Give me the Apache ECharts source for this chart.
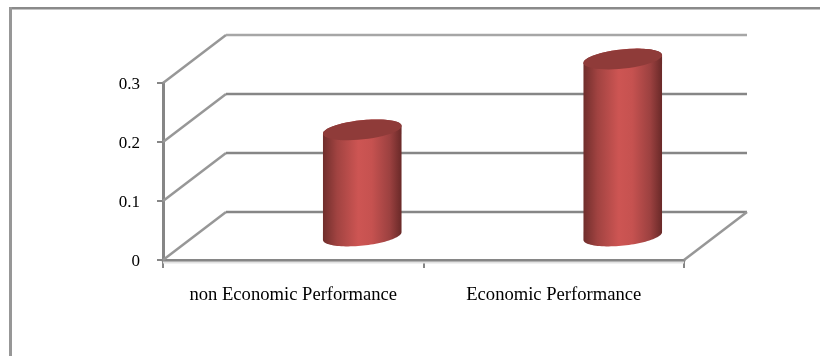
<!DOCTYPE html>
<html><head><meta charset="utf-8">
<style>html,body{margin:0;padding:0;background:#fff}#c{width:820px;height:356px}</style>
<script src="https://cdn.jsdelivr.net/npm/echarts@6/dist/echarts.min.js"></script>
</head><body><div id="c"></div>
<script>
const categories = ['non Economic Performance', 'Economic Performance'];
const values = [0.18, 0.30];
const gridTicks = [0, 0.1, 0.2, 0.3];

const DEPTH_X = 63, DEPTH_Y = -48;      // 3D wall offset
const BAR_DX = 69, BAR_DY = -24;        // bar centre offset from the band centre
const RX = 39.5, RY = 9.6, TILT = -6 * Math.PI / 180;

function ellipsePoints(cx, cy, from, to) {
  const pts = [];
  const n = 48;
  for (let i = 0; i <= n; i++) {
    const t = from + (to - from) * i / n;
    const x = RX * Math.cos(t), y = RY * Math.sin(t);
    pts.push([cx + x * Math.cos(TILT) - y * Math.sin(TILT),
              cy + x * Math.sin(TILT) + y * Math.cos(TILT)]);
  }
  return pts;
}

function renderWall(params, api) {
  const cs = params.coordSys;
  const v = api.value(0);
  const y = api.coord([0, v])[1];
  const left = cs.x, right = cs.x + cs.width;
  const top = v === gridTicks[gridTicks.length - 1];
  const color = top ? '#a6a6a6' : '#868686';
  const children = [
    {type: 'line', shape: {x1: left, y1: y, x2: left + DEPTH_X, y2: y + DEPTH_Y},
     style: {stroke: '#979797', lineWidth: 2.5}},
    {type: 'line', shape: {x1: left + DEPTH_X, y1: y + DEPTH_Y, x2: right + DEPTH_X, y2: y + DEPTH_Y},
     style: {stroke: color, lineWidth: 2.5}}
  ];
  if (v === 0) {
    children.push({type: 'line', shape: {x1: right, y1: y, x2: right + DEPTH_X, y2: y + DEPTH_Y},
      style: {stroke: '#979797', lineWidth: 2.5}});
    children.push({type: 'line', shape: {x1: left, y1: y + 2.5, x2: right, y2: y + 2.5},
      style: {stroke: '#e2e2e2', lineWidth: 2}});
  }
  return {type: 'group', children};
}

function renderCylinder(params, api) {
  const i = api.value(0);
  const base = api.coord([i, 0]);
  const topP = api.coord([i, api.value(1)]);
  const cx = base[0] + BAR_DX;
  const yb = base[1] + BAR_DY, yt = topP[1] + BAR_DY;
  const body = ellipsePoints(cx, yb, 0, Math.PI).concat(ellipsePoints(cx, yt, Math.PI, 2 * Math.PI));
  return {type: 'group', children: [
    {type: 'polygon', shape: {points: body}, style: {
      fill: {type: 'linear', x: 0, y: 0, x2: 1, y2: 0, colorStops: [
        {offset: 0, color: '#702e2c'},
        {offset: 0.18, color: '#a14341'},
        {offset: 0.45, color: '#cd5553'},
        {offset: 0.62, color: '#c65250'},
        {offset: 0.85, color: '#9c4140'},
        {offset: 1, color: '#692928'}
      ]}
    }},
    {type: 'polygon', shape: {points: ellipsePoints(cx, yt, 0, 2 * Math.PI)},
     style: {fill: '#8f3b39'}}
  ]};
}

const chart = echarts.init(document.getElementById('c'), null, {renderer: 'canvas'});
const labelFont = {fontFamily: 'Liberation Serif', color: '#000'};
chart.setOption({
  animation: false,
  backgroundColor: '#fff',
  grid: {left: 163, right: 136, top: 83, bottom: 96, containLabel: false},
  xAxis: {
    type: 'category', data: categories,
    axisLine: {lineStyle: {color: '#868686', width: 3}},
    axisTick: {show: true, length: 8, lineStyle: {color: '#868686', width: 2}},
    axisLabel: Object.assign({margin: 26, interval: 0, fontSize: 18.6}, labelFont),
    splitLine: {show: false}
  },
  yAxis: {
    type: 'value', min: 0, max: 0.3, interval: 0.1,
    axisLine: {show: true, lineStyle: {color: '#868686', width: 3}},
    axisTick: {show: true, length: 6, lineStyle: {color: '#868686', width: 2}},
    axisLabel: Object.assign({margin: 23, fontSize: 17, verticalAlign: 'top', lineHeight: 4}, labelFont),
    splitLine: {show: false}
  },
  graphic: [
    {type: 'line', silent: true, shape: {x1: 10, y1: 8, x2: 820, y2: 8}, style: {stroke: '#8a8a8a', lineWidth: 2}},
    {type: 'line', silent: true, shape: {x1: 10, y1: 9.5, x2: 820, y2: 9.5}, style: {stroke: '#c4c4c4', lineWidth: 1}},
    {type: 'line', silent: true, shape: {x1: 10.5, y1: 7, x2: 10.5, y2: 356}, style: {stroke: '#979797', lineWidth: 3}}
  ],
  series: [
    {type: 'custom', silent: true, z: 1, coordinateSystem: 'cartesian2d',
     encode: {y: 0}, data: gridTicks.map(v => [v]), renderItem: renderWall, clip: false},
    {type: 'custom', silent: true, z: 3, coordinateSystem: 'cartesian2d',
     encode: {x: 0, y: 1}, data: values.map((v, i) => [i, v]), renderItem: renderCylinder, clip: false}
  ]
});
</script></body></html>
